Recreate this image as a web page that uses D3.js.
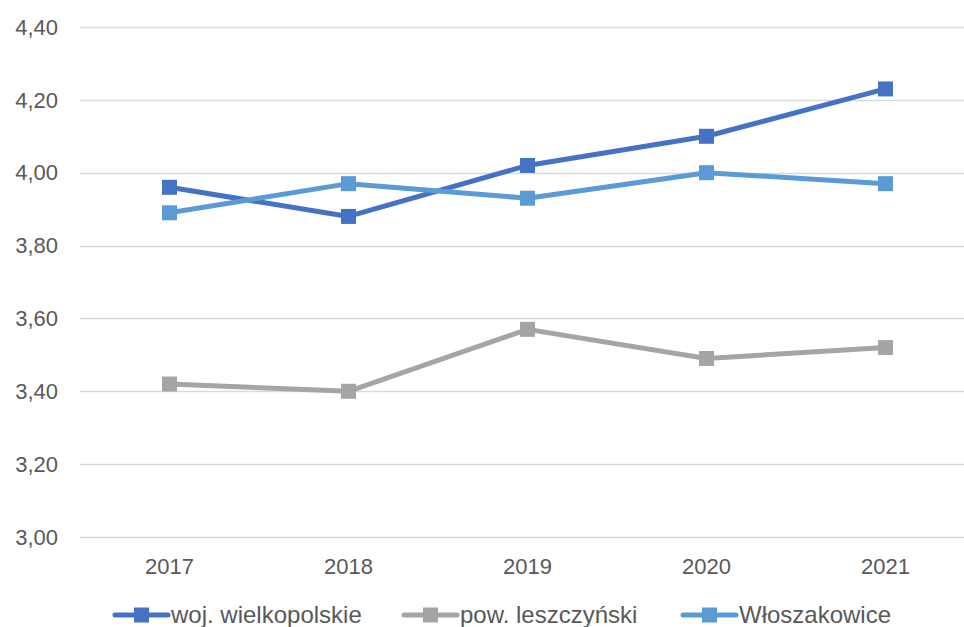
<!DOCTYPE html>
<html>
<head>
<meta charset="utf-8">
<script src="https://d3js.org/d3.v7.min.js"></script>
<style>
  body { margin: 0; background: #fff; overflow: hidden; }
  text { font-family: "Liberation Sans", Arial, sans-serif; fill: #595959; }
</style>
</head>
<body>
<svg id="chart"></svg>
<script>
  // data
  var years = ["2017", "2018", "2019", "2020", "2021"];
  var seriesNames = ["woj. wielkopolskie", "pow. leszczyński", "Włoszakowice"];
  var wojValues = [3.96, 3.88, 4.02, 4.10, 4.23];
  var powValues = [3.42, 3.40, 3.57, 3.49, 3.52];
  var wloValues = [3.89, 3.97, 3.93, 4.00, 3.97];
  var yTicks = [3.0, 3.2, 3.4, 3.6, 3.8, 4.0, 4.2, 4.4];
  var colors = ["#4472C4", "#A5A5A5", "#5B9BD5"];

  var series = [wojValues, powValues, wloValues].map(function(v, i) {
    return { name: seriesNames[i], values: v, color: colors[i] };
  });

  var width = 964, height = 627;
  var svg = d3.select("#chart").attr("width", width).attr("height", height);

  var x = d3.scaleBand().domain(years).range([80, 975]);
  var y = d3.scaleLinear().domain([3.0, 4.4]).range([537, 27]);
  var fmt = function(d) { return d3.format(".2f")(d).replace(".", ","); };

  // grid
  svg.append("g").selectAll("line")
    .data(yTicks)
    .enter().append("line")
    .attr("x1", 80).attr("x2", width)
    .attr("y1", function(d) { return Math.round(y(d)) + 0.5; })
    .attr("y2", function(d) { return Math.round(y(d)) + 0.5; })
    .attr("stroke", "#D9D9D9")
    .attr("stroke-width", 1.5);

  // y labels
  svg.append("g").selectAll("text")
    .data(yTicks)
    .enter().append("text")
    .attr("x", 58)
    .attr("y", function(d) { return y(d); })
    .attr("dy", "0.35em")
    .attr("text-anchor", "end")
    .style("font-size", "22px")
    .text(fmt);

  // x labels
  svg.append("g").selectAll("text")
    .data(years)
    .enter().append("text")
    .attr("x", function(d) { return x(d) + x.bandwidth() / 2; })
    .attr("y", 566)
    .attr("dy", "0.35em")
    .attr("text-anchor", "middle")
    .style("font-size", "22px")
    .text(function(d) { return d; });

  var line = d3.line()
    .x(function(d, i) { return x(years[i]) + x.bandwidth() / 2; })
    .y(function(d) { return y(d); });

  var ms = 15;
  series.forEach(function(s) {
    var g = svg.append("g");
    g.append("path")
      .datum(s.values)
      .attr("d", line)
      .attr("fill", "none")
      .attr("stroke", s.color)
      .attr("stroke-width", 5)
      .attr("stroke-linejoin", "round");
    g.selectAll("rect")
      .data(s.values)
      .enter().append("rect")
      .attr("x", function(d, i) { return x(years[i]) + x.bandwidth() / 2 - ms / 2; })
      .attr("y", function(d) { return y(d) - ms / 2; })
      .attr("width", ms).attr("height", ms)
      .attr("fill", s.color);
  });

  // legend
  var legendX = [115, 404, 683];
  var ly = 615;
  series.forEach(function(s, i) {
    var g = svg.append("g").attr("transform", "translate(" + legendX[i] + "," + ly + ")");
    g.append("line")
      .attr("x1", 0).attr("x2", 53)
      .attr("y1", 0).attr("y2", 0)
      .attr("stroke", s.color)
      .attr("stroke-width", 5)
      .attr("stroke-linecap", "round");
    g.append("rect")
      .attr("x", 26.5 - 7.5).attr("y", -7.5)
      .attr("width", 15).attr("height", 15)
      .attr("fill", s.color);
    g.append("text")
      .attr("x", 56)
      .attr("y", 0)
      .attr("dy", "0.35em")
      .style("font-size", "24px")
      .text(s.name);
  });
</script>
</body>
</html>
